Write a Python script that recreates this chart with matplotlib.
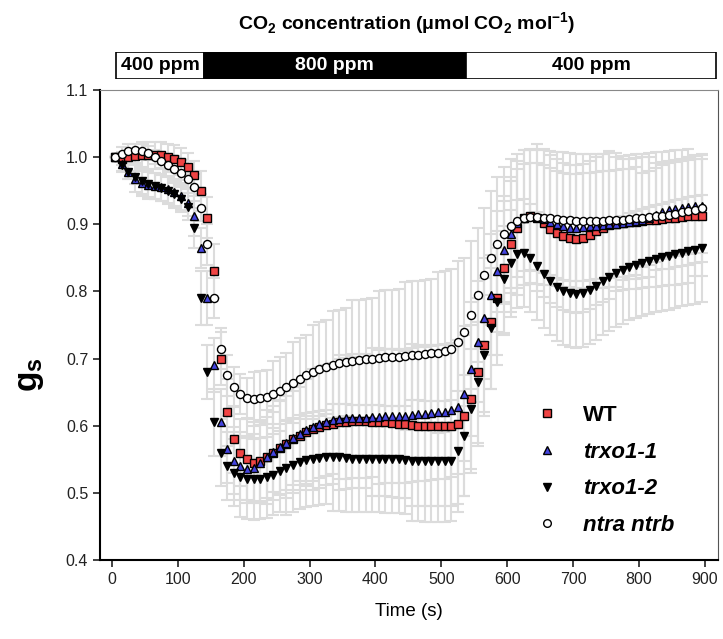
import numpy as np
import matplotlib
matplotlib.use("Agg")
import matplotlib.pyplot as plt

plt.rcParams['font.family'] = ['Liberation Sans', 'DejaVu Sans']

# time points (s)
time = np.arange(5, 900, 10)

wt = [1.000, 0.998, 1.000, 1.002, 1.003, 1.003, 1.003, 1.003, 1.000, 0.998,
      0.993, 0.986, 0.974, 0.950, 0.910, 0.830, 0.700, 0.620, 0.580, 0.560,
      0.550, 0.545, 0.548, 0.553, 0.560, 0.567, 0.573, 0.580, 0.585, 0.590,
      0.595, 0.598, 0.601, 0.603, 0.605, 0.606, 0.607, 0.607, 0.607, 0.606,
      0.606, 0.605, 0.604, 0.603, 0.602, 0.601, 0.600, 0.600, 0.600, 0.600,
      0.600, 0.600, 0.603, 0.615, 0.640, 0.680, 0.720, 0.755, 0.790, 0.835,
      0.870, 0.895, 0.910, 0.912, 0.910, 0.902, 0.893, 0.887, 0.882, 0.879,
      0.878, 0.880, 0.884, 0.890, 0.895, 0.899, 0.901, 0.902, 0.903, 0.904,
      0.905, 0.906, 0.907, 0.908, 0.909, 0.910, 0.911, 0.912, 0.913, 0.913]

trxo1_1 = [1.000, 0.990, 0.978, 0.968, 0.962, 0.958, 0.957, 0.955, 0.952, 0.948,
           0.942, 0.932, 0.912, 0.865, 0.790, 0.690, 0.605, 0.565, 0.548, 0.540,
           0.535, 0.537, 0.545, 0.553, 0.561, 0.568, 0.575, 0.582, 0.588, 0.593,
           0.598, 0.602, 0.605, 0.608, 0.610, 0.611, 0.612, 0.612, 0.612, 0.613,
           0.613, 0.614, 0.614, 0.615, 0.615, 0.616, 0.617, 0.618, 0.619, 0.620,
           0.621, 0.623, 0.628, 0.648, 0.685, 0.725, 0.760, 0.795, 0.830, 0.862,
           0.885, 0.902, 0.910, 0.912, 0.911, 0.908, 0.904, 0.900, 0.897, 0.895,
           0.895, 0.896, 0.897, 0.898, 0.899, 0.900, 0.901, 0.902, 0.903, 0.905,
           0.907, 0.910, 0.914, 0.918, 0.921, 0.923, 0.925, 0.926, 0.927, 0.928]

trxo1_2 = [1.000, 0.988, 0.978, 0.970, 0.965, 0.960, 0.957, 0.954, 0.950, 0.945,
           0.938, 0.926, 0.895, 0.790, 0.680, 0.605, 0.560, 0.540, 0.530, 0.524,
           0.521, 0.520, 0.521, 0.523, 0.527, 0.532, 0.537, 0.542, 0.546, 0.549,
           0.551, 0.552, 0.553, 0.553, 0.553, 0.552, 0.551, 0.551, 0.551, 0.551,
           0.551, 0.550, 0.550, 0.550, 0.549, 0.548, 0.548, 0.547, 0.547, 0.547,
           0.547, 0.548, 0.562, 0.585, 0.625, 0.665, 0.705, 0.745, 0.785, 0.818,
           0.842, 0.856, 0.857, 0.850, 0.838, 0.826, 0.815, 0.806, 0.800, 0.797,
           0.796, 0.798, 0.802, 0.808, 0.815, 0.821, 0.827, 0.832, 0.837, 0.840,
           0.843, 0.846, 0.849, 0.851, 0.853, 0.856, 0.858, 0.860, 0.862, 0.864]

ntra_ntrb = [1.000, 1.005, 1.009, 1.010, 1.009, 1.006, 1.000, 0.994, 0.988, 0.982,
             0.976, 0.967, 0.955, 0.925, 0.870, 0.790, 0.715, 0.675, 0.658, 0.647,
             0.641, 0.640, 0.641, 0.643, 0.647, 0.652, 0.658, 0.664, 0.670, 0.675,
             0.680, 0.684, 0.688, 0.691, 0.693, 0.695, 0.697, 0.698, 0.699, 0.700,
             0.701, 0.702, 0.702, 0.703, 0.704, 0.705, 0.706, 0.707, 0.708, 0.709,
             0.711, 0.714, 0.725, 0.740, 0.765, 0.795, 0.825, 0.850, 0.870, 0.885,
             0.897, 0.905, 0.910, 0.911, 0.911, 0.910, 0.909, 0.908, 0.907, 0.906,
             0.905, 0.905, 0.905, 0.905, 0.905, 0.906, 0.906, 0.907, 0.908, 0.909,
             0.910, 0.911, 0.912, 0.913, 0.914, 0.916, 0.918, 0.920, 0.922, 0.924]

# standard errors
wt_err = [0.00, 0.01, 0.01, 0.01, 0.02, 0.02, 0.02, 0.02, 0.02, 0.02,
          0.02, 0.02, 0.02, 0.03, 0.03, 0.04, 0.04, 0.05, 0.05, 0.05,
          0.06, 0.06, 0.06, 0.07, 0.07, 0.07, 0.08, 0.08, 0.08, 0.08,
          0.09, 0.09, 0.09, 0.09, 0.10, 0.10, 0.10, 0.10, 0.10, 0.11,
          0.11, 0.11, 0.11, 0.11, 0.11, 0.12, 0.12, 0.12, 0.12, 0.12,
          0.12, 0.12, 0.12, 0.12, 0.11, 0.11, 0.10, 0.10, 0.10, 0.10,
          0.10, 0.10, 0.10, 0.10, 0.11, 0.11, 0.11, 0.11, 0.11, 0.11,
          0.11, 0.11, 0.11, 0.11, 0.11, 0.11, 0.10, 0.10, 0.10, 0.10,
          0.10, 0.10, 0.10, 0.10, 0.10, 0.10, 0.10, 0.10, 0.09, 0.09]

trxo1_1_err = [0.00, 0.01, 0.01, 0.02, 0.02, 0.02, 0.02, 0.02, 0.02, 0.02,
               0.02, 0.02, 0.03, 0.03, 0.04, 0.04, 0.05, 0.05, 0.05, 0.05,
               0.05, 0.05, 0.06, 0.06, 0.06, 0.07, 0.07, 0.07, 0.07, 0.08,
               0.08, 0.08, 0.08, 0.08, 0.09, 0.09, 0.09, 0.09, 0.09, 0.09,
               0.10, 0.10, 0.10, 0.10, 0.10, 0.10, 0.10, 0.10, 0.10, 0.10,
               0.10, 0.10, 0.10, 0.10, 0.10, 0.09, 0.09, 0.09, 0.09, 0.08,
               0.08, 0.08, 0.08, 0.08, 0.08, 0.08, 0.08, 0.08, 0.08, 0.08,
               0.08, 0.08, 0.08, 0.08, 0.08, 0.08, 0.08, 0.08, 0.08, 0.08,
               0.07, 0.07, 0.07, 0.07, 0.07, 0.07, 0.07, 0.07, 0.07, 0.07]

trxo1_2_err = [0.00, 0.01, 0.01, 0.01, 0.02, 0.02, 0.02, 0.02, 0.02, 0.02,
               0.02, 0.02, 0.03, 0.04, 0.04, 0.05, 0.05, 0.05, 0.05, 0.06,
               0.06, 0.06, 0.06, 0.06, 0.06, 0.06, 0.07, 0.07, 0.07, 0.07,
               0.07, 0.07, 0.07, 0.08, 0.08, 0.08, 0.08, 0.08, 0.08, 0.08,
               0.08, 0.08, 0.08, 0.08, 0.08, 0.09, 0.09, 0.09, 0.09, 0.09,
               0.09, 0.09, 0.09, 0.09, 0.09, 0.09, 0.09, 0.09, 0.08, 0.08,
               0.08, 0.08, 0.08, 0.08, 0.08, 0.08, 0.08, 0.08, 0.08, 0.08,
               0.08, 0.08, 0.08, 0.08, 0.08, 0.08, 0.08, 0.08, 0.08, 0.08,
               0.08, 0.08, 0.08, 0.08, 0.08, 0.08, 0.08, 0.08, 0.08, 0.08]

ntra_ntrb_err = [0.00, 0.01, 0.01, 0.01, 0.01, 0.01, 0.01, 0.01, 0.01, 0.02,
                 0.02, 0.02, 0.02, 0.02, 0.03, 0.03, 0.03, 0.03, 0.03, 0.03,
                 0.03, 0.04, 0.04, 0.04, 0.05, 0.05, 0.05, 0.06, 0.06, 0.06,
                 0.07, 0.07, 0.07, 0.08, 0.08, 0.08, 0.09, 0.09, 0.09, 0.09,
                 0.10, 0.10, 0.10, 0.10, 0.11, 0.11, 0.11, 0.11, 0.11, 0.12,
                 0.12, 0.12, 0.12, 0.11, 0.11, 0.10, 0.10, 0.10, 0.10, 0.10,
                 0.10, 0.10, 0.10, 0.10, 0.10, 0.10, 0.10, 0.10, 0.10, 0.10,
                 0.10, 0.10, 0.10, 0.10, 0.10, 0.10, 0.10, 0.09, 0.09, 0.09,
                 0.09, 0.09, 0.08, 0.08, 0.08, 0.08, 0.08, 0.08, 0.08, 0.08]

labels = ['WT', 'trxo1-1', 'trxo1-2', 'ntra ntrb']
markers = ['s', '^', 'v', 'o']
facecolors = ['#f04444', '#4444e0', 'black', 'white']

# CO2 treatment segments (s)
co2_start = [7, 140, 537]
co2_end = [140, 537, 917]
co2_labels = ['400 ppm', '800 ppm', '400 ppm']
co2_colors = ['white', 'black', 'white']
co2_text = ['black', 'white', 'black']

fig = plt.figure(figsize=(7.23, 6.39), dpi=100)
ax = fig.add_axes([0.1383, 0.1236, 0.855, 0.7355])

series = [wt, trxo1_1, trxo1_2, ntra_ntrb]
errs = [wt_err, trxo1_1_err, trxo1_2_err, ntra_ntrb_err]

for y, e in zip(series, errs):
    ax.errorbar(time, y, yerr=e, fmt='none', ecolor='#dcdcdc', elinewidth=1.5,
                capsize=4, capthick=1.5, zorder=1)

for y, lab, m, fc in zip(series, labels, markers, facecolors):
    ax.plot(time, y, linestyle='none', marker=m, markersize=5.8,
            markerfacecolor=fc, markeredgecolor='black', markeredgewidth=1.0,
            label=lab, zorder=3)

ax.set_xlim(-18, 920)
ax.set_ylim(0.4, 1.1)
ax.set_xticks(np.arange(0, 901, 100))
ax.set_yticks(np.arange(0.4, 1.101, 0.1))
ax.set_yticklabels(['%.1f' % v for v in np.arange(0.4, 1.101, 0.1)])
ax.tick_params(direction='out', length=5, width=1.2, labelsize=11.5, colors='#222222')
ax.spines['left'].set_linewidth(1.5)
ax.spines['bottom'].set_linewidth(1.5)
ax.spines['top'].set_color('#888888')
ax.spines['right'].set_color('#555555')
ax.set_xlabel('Time (s)', fontsize=13.5, labelpad=12)
ax.set_ylabel('g$_{\\mathregular{s}}$', fontsize=24, fontweight='bold')
ax.yaxis.set_label_coords(-0.088, 0.394)

leg = ax.legend(loc='upper left', bbox_to_anchor=(0.655, 0.372), frameon=False,
                prop={'weight': 'bold', 'size': 16}, labelspacing=0.7,
                handletextpad=0.6, markerscale=0.95)
for i, txt in enumerate(leg.get_texts()):
    if i > 0:
        txt.set_style('italic')

# CO2 bar above the plot
bar = fig.add_axes([0.1383, 0.876, 0.855, 0.0423])
bar.barh(0.5, np.array(co2_end) - np.array(co2_start), left=co2_start, height=1.0,
         color=co2_colors, edgecolor='black', linewidth=1.2)
for s, e, lab, tc in zip(co2_start, co2_end, co2_labels, co2_text):
    bar.text((s + e) / 2, 0.5, lab, color=tc, ha='center', va='center',
             fontsize=14, fontweight='bold')
bar.set_xlim(-18, 920)
bar.set_ylim(0, 1)
bar.axis('off')
fig.text(0.563, 0.963, 'CO$_{\\mathregular{2}}$ concentration (\u03bcmol CO$_{\\mathregular{2}}$ mol$^{\\mathregular{-1}}$)',
         ha='center', va='center', fontsize=14, fontweight='bold')

plt.savefig('out.png', dpi=100)
